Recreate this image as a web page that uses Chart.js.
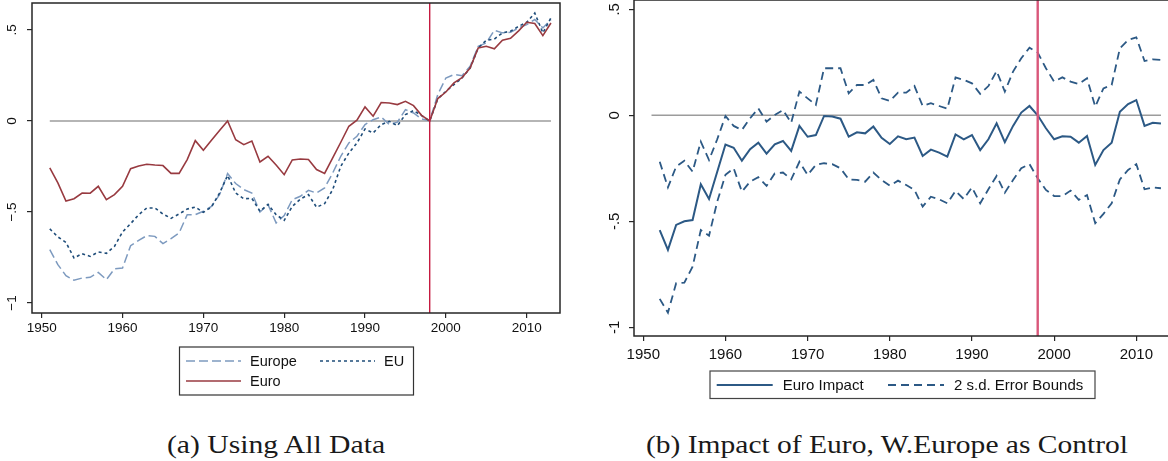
<!DOCTYPE html>
<html>
<head>
<meta charset="utf-8">
<script src="https://cdn.jsdelivr.net/npm/chart.js@4.4.1/dist/chart.umd.min.js"></script>
<style>
  body { margin: 0; width: 1168px; height: 461px; overflow: hidden; background: #fff; position: relative; }
  #panelA { position: absolute; left: 0; top: 0; }
  #panelB { position: absolute; left: 590px; top: 0; }
  .caption {
    position: absolute; top: 432.5px; line-height: 24.5px; white-space: nowrap;
    font-family: "Liberation Serif", serif; font-size: 24.5px; color: #1a1a1a;
    transform-origin: center;
  }
  #capA { left: 276px; transform: translateX(-50%) scaleX(1.21); }
  #capB { left: 887px; transform: translateX(-50%) scaleX(1.205); }
</style>
</head>
<body>
<canvas id="panelA" width="580" height="410"></canvas>
<canvas id="panelB" width="590" height="410"></canvas>
<div class="caption" id="capA">(a) Using All Data</div>
<div class="caption" id="capB">(b) Impact of Euro, W.Europe as Control</div>
<script>
// years and series for panel (a)
const yearsAll = Array.from({ length: 63 }, (_, i) => 1951 + i);
const europe = [
  -0.707, -0.789, -0.850, -0.875, -0.863, -0.859, -0.832, -0.872, -0.813, -0.808,
  -0.685, -0.656, -0.630, -0.634, -0.674, -0.646, -0.615, -0.515, -0.515, -0.496,
  -0.469, -0.405, -0.289, -0.344, -0.377, -0.396, -0.500, -0.460, -0.560, -0.520,
  -0.432, -0.414, -0.381, -0.396, -0.368, -0.286, -0.194, -0.121, -0.084, -0.020,
  0.007, 0.022, -0.020, -0.007, 0.062, 0.044, 0.011, 0.000, 0.145, 0.236,
  0.255, 0.249, 0.300, 0.410, 0.429, 0.498, 0.484, 0.487, 0.511, 0.529,
  0.557, 0.511, 0.557
];
const eu = [
  -0.593, -0.637, -0.667, -0.753, -0.729, -0.744, -0.720, -0.727, -0.689, -0.610,
  -0.564, -0.515, -0.478, -0.478, -0.511, -0.535, -0.511, -0.484, -0.473, -0.502,
  -0.473, -0.396, -0.299, -0.396, -0.427, -0.425, -0.496, -0.458, -0.515, -0.546,
  -0.469, -0.429, -0.405, -0.474, -0.454, -0.377, -0.249, -0.176, -0.121, -0.044,
  -0.066, -0.020, -0.002, -0.026, 0.035, 0.057, 0.029, 0.000, 0.121, 0.163,
  0.200, 0.236, 0.291, 0.401, 0.443, 0.450, 0.484, 0.493, 0.520, 0.542,
  0.593, 0.484, 0.566
];
const euro = [
  -0.258, -0.340, -0.440, -0.427, -0.396, -0.397, -0.359, -0.432, -0.405, -0.359,
  -0.262, -0.247, -0.238, -0.242, -0.245, -0.288, -0.288, -0.212, -0.108, -0.161,
  -0.106, -0.053, 0.000, -0.103, -0.130, -0.110, -0.225, -0.194, -0.242, -0.295,
  -0.214, -0.209, -0.212, -0.267, -0.288, -0.203, -0.117, -0.029, 0.004, 0.077,
  0.026, 0.101, 0.099, 0.090, 0.108, 0.084, 0.031, 0.000, 0.123, 0.159,
  0.209, 0.238, 0.291, 0.401, 0.410, 0.396, 0.443, 0.454, 0.495, 0.542,
  0.535, 0.469, 0.538
];

// years and series for panel (b)
const yearsImpact = Array.from({ length: 62 }, (_, i) => 1952 + i);
const impact = [
  -0.541, -0.635, -0.517, -0.500, -0.494, -0.325, -0.395, -0.266, -0.138,
  -0.153, -0.214, -0.160, -0.129, -0.181, -0.137, -0.121, -0.168, -0.050, -0.101,
  -0.093, -0.003, -0.006, -0.016, -0.101, -0.080, -0.085, -0.053, -0.106, -0.135,
  -0.099, -0.113, -0.105, -0.192, -0.162, -0.176, -0.195, -0.090, -0.113, -0.093,
  -0.164, -0.113, -0.038, -0.127, -0.050, 0.013, 0.044, 0.000, -0.061, -0.113,
  -0.099, -0.101, -0.129, -0.097, -0.234, -0.164, -0.129, 0.017, 0.053, 0.072,
  -0.050, -0.035, -0.039
];
const upperBound = [
  -0.219, -0.340, -0.242, -0.214, -0.266, -0.124, -0.211, -0.113, -0.003,
  -0.050, -0.069, -0.014, 0.033, -0.030, 0.002, 0.025, -0.035, 0.112, 0.080,
  0.049, 0.222, 0.222, 0.222, 0.104, 0.143, 0.143, 0.167, 0.080, 0.068,
  0.107, 0.107, 0.138, 0.044, 0.057, 0.044, 0.031, 0.179, 0.167, 0.151,
  0.101, 0.138, 0.209, 0.112, 0.206, 0.269, 0.319, 0.296, 0.222, 0.159,
  0.179, 0.159, 0.148, 0.175, 0.041, 0.127, 0.143, 0.316, 0.355, 0.368,
  0.256, 0.264, 0.261
];
const lowerBound = [
  -0.866, -0.931, -0.792, -0.789, -0.714, -0.541, -0.568, -0.407, -0.281,
  -0.250, -0.360, -0.313, -0.292, -0.333, -0.274, -0.270, -0.302, -0.219, -0.281,
  -0.234, -0.226, -0.230, -0.250, -0.302, -0.305, -0.313, -0.270, -0.305, -0.332,
  -0.308, -0.329, -0.352, -0.431, -0.384, -0.396, -0.415, -0.357, -0.395, -0.340,
  -0.415, -0.349, -0.286, -0.365, -0.305, -0.250, -0.230, -0.297, -0.352, -0.381,
  -0.381, -0.355, -0.399, -0.376, -0.509, -0.465, -0.415, -0.302, -0.258, -0.230,
  -0.349, -0.340, -0.344
];

// axes
const xTicks = [1950, 1960, 1970, 1980, 1990, 2000, 2010];
const yTicks = [-1, -0.5, 0, 0.5];
const yLabelsA = ["\u22121", "\u2212.5", "0", ".5"];
const yLabelsB = ["-1", "-.5", "0", ".5"];
const euroStart = 1998;
const zeroSpan = [1951, 2013];

function points(xs, ys) {
  return xs.map((x, i) => ({ x: x, y: ys[i] }));
}

// plot region outline, drawn on top of the series
const frame = {
  id: "frame",
  afterDatasetsDraw(chart, args, opts) {
    const a = chart.chartArea;
    const ctx = chart.ctx;
    ctx.save();
    ctx.strokeStyle = opts.color;
    ctx.lineWidth = opts.width;
    ctx.strokeRect(a.left, a.top, a.right - a.left, a.bottom - a.top);
    ctx.restore();
  },
};

// boxed legend with line samples taken from the datasets
const boxLegend = {
  id: "boxLegend",
  afterDraw(chart, args, opts) {
    const ctx = chart.ctx;
    const b = opts.box;
    ctx.save();
    ctx.strokeStyle = opts.borderColor;
    ctx.lineWidth = 1.2;
    ctx.strokeRect(b[0], b[1], b[2], b[3]);
    ctx.font = opts.font;
    ctx.textBaseline = "middle";
    opts.items.forEach((item) => {
      const ds = chart.data.datasets[item.dataset];
      ctx.strokeStyle = ds.borderColor;
      ctx.lineWidth = ds.borderWidth;
      ctx.setLineDash(ds.borderDash || []);
      ctx.beginPath();
      ctx.moveTo(item.x, item.y);
      ctx.lineTo(item.x + opts.sampleWidth, item.y);
      ctx.stroke();
      ctx.setLineDash([]);
      ctx.fillStyle = "#111";
      ctx.fillText(ds.label, item.x + opts.sampleWidth + opts.gap, item.y + 0.5);
    });
    ctx.restore();
  },
};

function buildOptions(cfg) {
  return {
    responsive: false,
    animation: false,
    devicePixelRatio: 1,
    layout: { padding: cfg.padding },
    elements: { point: { radius: 0 }, line: { tension: 0 } },
    plugins: {
      legend: { display: false },
      tooltip: { enabled: false },
      frame: { color: "#262626", width: 1.5 },
      boxLegend: cfg.legend,
    },
    scales: {
      x: {
        type: "linear",
        min: cfg.xMin,
        max: cfg.xMax,
        border: { display: false },
        grid: { drawOnChartArea: false, tickLength: 5, color: "#262626", lineWidth: 1.2 },
        afterBuildTicks: (scale) => {
          scale.ticks = xTicks.map((v) => ({ value: v }));
        },
        afterFit: (scale) => {
          scale.height = 30;
          scale.paddingLeft = 0;
          scale.paddingRight = 0;
        },
        ticks: {
          autoSkip: false,
          maxRotation: 0,
          padding: cfg.xPad,
          color: "#111",
          font: { family: "Liberation Sans", size: cfg.fontSize },
          callback: (value) => String(value),
        },
      },
      y: {
        min: cfg.yMin,
        max: cfg.yMax,
        border: { display: false },
        grid: { drawOnChartArea: false, tickLength: 5, color: "#262626", lineWidth: 1.2 },
        afterBuildTicks: (scale) => {
          scale.ticks = yTicks.map((v) => ({ value: v }));
        },
        afterFit: (scale) => {
          scale.width = cfg.yWidth;
          scale.paddingTop = 0;
          scale.paddingBottom = 0;
        },
        ticks: {
          autoSkip: false,
          minRotation: 90,
          maxRotation: 90,
          crossAlign: "center",
          padding: cfg.yPad,
          color: "#111",
          font: { family: "Liberation Sans", size: cfg.fontSize },
          callback: (value) => cfg.yLabels[yTicks.indexOf(value)],
        },
      },
    },
  };
}

// panel (a): Europe, EU and Euro series
const yMinA = -1.055;
const yMaxA = 0.648;
new Chart(document.getElementById("panelA").getContext("2d"), {
  type: "line",
  data: {
    datasets: [
      {
        label: "Europe",
        data: points(yearsAll, europe),
        borderColor: "#7d9abf",
        borderWidth: 1.5,
        borderDash: [9, 4],
        order: 3,
      },
      {
        label: "EU",
        data: points(yearsAll, eu),
        borderColor: "#1f4d7a",
        borderWidth: 1.6,
        borderDash: [3, 3],
        order: 2,
      },
      {
        label: "Euro",
        data: points(yearsAll, euro),
        borderColor: "#983a40",
        borderWidth: 1.6,
        order: 1,
      },
      {
        label: "zero",
        data: points(zeroSpan, [0, 0]),
        borderColor: "#9c9c9c",
        borderWidth: 1.5,
        order: 5,
      },
      {
        label: "euro start",
        data: points([euroStart, euroStart], [yMinA, yMaxA]),
        borderColor: "#c51a40",
        borderWidth: 1.4,
        order: 0,
      },
    ],
  },
  options: buildOptions({
    padding: { left: 0, right: 20, top: 3, bottom: 67 },
    xMin: 1948.8,
    xMax: 2014.12,
    yMin: yMinA,
    yMax: yMaxA,
    yWidth: 32,
    xPad: 2,
    yPad: 5,
    fontSize: 13.5,
    yLabels: yLabelsA,
    legend: {
      box: [179.5, 347, 234, 48],
      borderColor: "#333",
      font: "14.5px 'Liberation Sans'",
      sampleWidth: 55,
      gap: 9,
      items: [
        { dataset: 0, x: 186, y: 361 },
        { dataset: 1, x: 320, y: 361 },
        { dataset: 2, x: 186, y: 381 },
      ],
    },
  }),
  plugins: [frame, boxLegend],
});

// panel (b): estimated impact with its error bounds
const yMinB = -1.041;
const yMaxB = 0.544;
new Chart(document.getElementById("panelB").getContext("2d"), {
  type: "line",
  data: {
    datasets: [
      {
        label: "Euro Impact",
        data: points(yearsImpact, impact),
        borderColor: "#2c5985",
        borderWidth: 2,
        order: 1,
      },
      {
        label: "2 s.d. Error Bounds",
        data: points(yearsImpact, upperBound),
        borderColor: "#2c5985",
        borderWidth: 1.8,
        borderDash: [8, 5],
        order: 2,
      },
      {
        label: "2 s.d. Error Bounds",
        data: points(yearsImpact, lowerBound),
        borderColor: "#2c5985",
        borderWidth: 1.8,
        borderDash: [8, 5],
        order: 2,
      },
      {
        label: "zero",
        data: points(zeroSpan, [0, 0]),
        borderColor: "#9c9c9c",
        borderWidth: 1.5,
        order: 5,
      },
      {
        label: "euro start",
        data: points([euroStart, euroStart], [yMinB, yMaxB]),
        borderColor: "#d9577a",
        borderWidth: 2.4,
        order: 0,
      },
    ],
  },
  options: buildOptions({
    padding: { left: 0, right: 10, top: 0, bottom: 44 },
    xMin: 1948.87,
    xMax: 2014.1,
    yMin: yMinB,
    yMax: yMaxB,
    yWidth: 44,
    xPad: 5,
    yPad: 5.5,
    fontSize: 15,
    yLabels: yLabelsB,
    legend: {
      box: [120, 371, 385, 27.5],
      borderColor: "#444",
      font: "15px 'Liberation Sans'",
      sampleWidth: 56,
      gap: 10,
      items: [
        { dataset: 0, x: 126.7, y: 385 },
        { dataset: 1, x: 298, y: 385 },
      ],
    },
  }),
  plugins: [frame, boxLegend],
});
</script>
</body>
</html>
